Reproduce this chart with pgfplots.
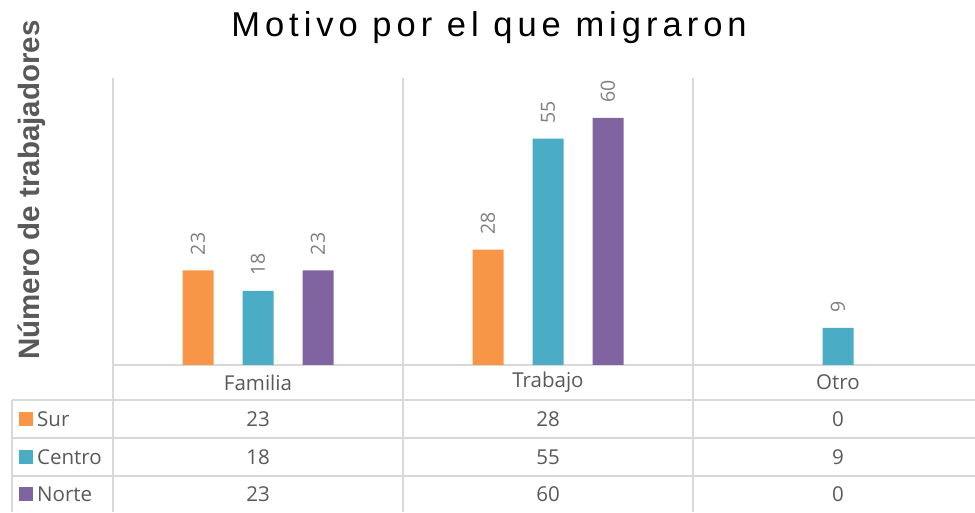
\documentclass[border=0pt]{standalone}
\usepackage{pgfplots}
\pgfplotsset{compat=1.18}
\usepackage{fontspec}
\setmainfont{Open Sans}
\newfontfamily\titlefont[LetterSpace=14.5]{Liberation Sans}
\newfontfamily\labfont{Liberation Sans}
\definecolor{csur}{HTML}{F79646}
\definecolor{ccen}{HTML}{4BACC6}
\definecolor{cnor}{HTML}{8064A2}
\definecolor{tgray}{HTML}{595959}
\definecolor{lgray}{HTML}{D9D9D9}
\definecolor{dlab}{HTML}{7F7F7F}
\newcommand{\tfont}{\fontsize{20.5}{24}\selectfont}
\begin{document}
\begin{tikzpicture}
\useasboundingbox (0,0) rectangle (975pt,512pt);
% table and grid lines
\begin{scope}[lgray, line width=1.5pt]
\draw (113pt,147pt) -- (975pt,147pt);
\draw (12pt,112pt) -- (975pt,112pt);
\draw (12pt,74pt) -- (975pt,74pt);
\draw (12pt,36pt) -- (975pt,36pt);
\draw (12pt,0pt) -- (12pt,112pt);
\draw (113pt,0pt) -- (113pt,434pt);
\draw (403pt,0pt) -- (403pt,434pt);
\draw (693pt,0pt) -- (693pt,434pt);
\end{scope}
\begin{axis}[
 at={(113pt,147pt)}, anchor=south west,
 scale only axis, width=870pt, height=288.2pt,
 xmin=0, xmax=3, ymin=0, ymax=70,
 hide axis,
 ybar, bar width=31pt,
 clip=false,
 /pgf/number format/assume math mode=true,
 nodes near coords,
 every node near coord/.append style={font=\fontsize{19.5}{22}\selectfont, color=dlab, yshift=15pt, rotate=90, anchor=west, inner sep=0pt},
]
\addplot[fill=csur, draw=none, bar shift=-60pt] coordinates {(0.5,23) (1.5,28)};
\addplot[fill=ccen, draw=none, bar shift=0pt] coordinates {(0.5,18) (1.5,55) (2.5,9)};
\addplot[fill=cnor, draw=none, bar shift=60pt] coordinates {(0.5,23) (1.5,60)};
\end{axis}
% title and y label
\node[font={\titlefont\fontsize{34.5}{40}\selectfont}, text=black] at (489pt,484pt) {Motivo por el que migraron};
\node[rotate=90, font={\labfont\bfseries\fontsize{29.5}{34}\selectfont}, text=tgray] at (32pt,322pt) {Número de trabajadores};
% data table
\begin{scope}[every node/.style={font=\tfont, text=tgray}]
\node at (258pt,129.5pt) {Familia};
\node at (548pt,129.5pt) {Trabajo};
\node at (838pt,129.5pt) {Otro};
\node at (258pt,93pt) {23};
\node at (548pt,93pt) {28};
\node at (838pt,93pt) {0};
\node at (258pt,55pt) {18};
\node at (548pt,55pt) {55};
\node at (838pt,55pt) {9};
\node at (258pt,18pt) {23};
\node at (548pt,18pt) {60};
\node at (838pt,18pt) {0};
\fill[csur] (19pt,86pt) rectangle (33pt,100pt);
\fill[ccen] (19pt,48pt) rectangle (33pt,62pt);
\fill[cnor] (19pt,11pt) rectangle (33pt,25pt);
\node[anchor=west, inner sep=0pt] at (37pt,93pt) {Sur};
\node[anchor=west, inner sep=0pt] at (37pt,55pt) {Centro};
\node[anchor=west, inner sep=0pt] at (37pt,18pt) {Norte};
\end{scope}
\end{tikzpicture}
\end{document}
